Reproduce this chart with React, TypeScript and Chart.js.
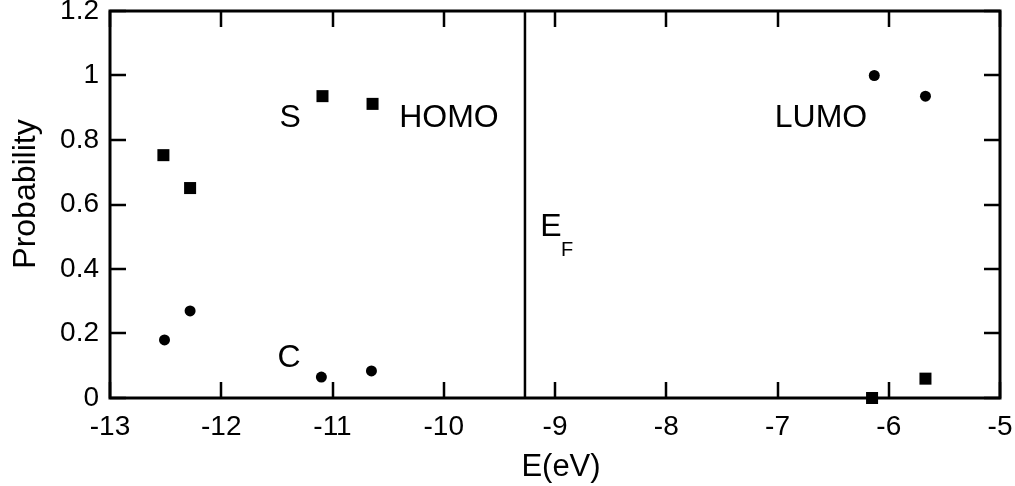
import React, { useEffect, useRef } from "react";
import { Chart, registerables } from "chart.js";

Chart.register(...registerables);

// Data (energies in eV, probabilities)
const sEnergies = [-12.52, -12.28, -11.09, -10.64, -6.15, -5.67];
const sProb = [0.753, 0.651, 0.936, 0.912, 0.0, 0.06];
const cEnergies = [-12.51, -12.28, -11.1, -10.65, -6.13, -5.67];
const cProb = [0.18, 0.27, 0.065, 0.084, 1.0, 0.936];
const fermiLevel = -9.27;

const xTicks = [-13, -12, -11, -10, -9, -8, -7, -6, -5];
const yTicks = [0, 0.2, 0.4, 0.6, 0.8, 1, 1.2];
const yTickLabels = ["0", "0.2", "0.4", "0.6", "0.8", "1", "1.2"];

const labelTexts = ["S", "C", "HOMO", "LUMO"];
const labelX = [-11.38, -11.39, -9.953, -6.609];
const labelY = [0.871, 0.127, 0.871, 0.871];

const FONT = "'Liberation Sans', Arial, Helvetica, sans-serif";

const framePlugin = {
  id: "frame",
  afterDatasetsDraw(chart: any) {
    const { ctx, chartArea, scales } = chart;
    const xs = scales.x;
    const ys = scales.y;
    const { left, right, top, bottom } = chartArea;
    ctx.save();
    ctx.strokeStyle = "#000";
    ctx.lineWidth = 3;
    ctx.lineCap = "butt";
    // frame
    ctx.strokeRect(left, top, right - left, bottom - top);
    const tl = 16;
    ctx.lineWidth = 2.5;
    ctx.beginPath();
    xTicks.forEach((v) => {
      const px = Math.round(xs.getPixelForValue(v));
      ctx.moveTo(px, bottom);
      ctx.lineTo(px, bottom - tl);
      ctx.moveTo(px, top);
      ctx.lineTo(px, top + tl);
    });
    yTicks.forEach((v) => {
      const py = Math.round(ys.getPixelForValue(v));
      ctx.moveTo(left, py);
      ctx.lineTo(left + tl, py);
      ctx.moveTo(right, py);
      ctx.lineTo(right - tl, py);
    });
    ctx.stroke();
    // Fermi level line
    const fx = xs.getPixelForValue(fermiLevel);
    ctx.lineWidth = 2.5;
    ctx.beginPath();
    ctx.moveTo(fx, top);
    ctx.lineTo(fx, bottom);
    ctx.stroke();

    // annotations
    ctx.fillStyle = "#000";
    ctx.textAlign = "center";
    ctx.textBaseline = "middle";
    ctx.font = `32px ${FONT}`;
    labelTexts.forEach((t, i) => {
      ctx.fillText(t, xs.getPixelForValue(labelX[i]), ys.getPixelForValue(labelY[i]) + 1);
    });
    // E_F
    ctx.font = `32px ${FONT}`;
    ctx.fillText("E", xs.getPixelForValue(-9.036), ys.getPixelForValue(0.533) + 1);
    ctx.font = `20px ${FONT}`;
    ctx.fillText("F", xs.getPixelForValue(-8.892), ys.getPixelForValue(0.459) + 1);

    // axis titles
    ctx.font = `31px ${FONT}`;
    ctx.fillText("E(eV)", 561, 467);
    ctx.save();
    ctx.translate(26, 194);
    ctx.rotate(-Math.PI / 2);
    ctx.font = `32px ${FONT}`;
    ctx.fillText("Probability", 0, 0);
    ctx.restore();
    ctx.restore();
  },
};

export default function App() {
  const ref = useRef<HTMLCanvasElement | null>(null);
  useEffect(() => {
    document.body.style.margin = "0";
    const canvas = ref.current;
    if (!canvas) return;
    const chart = new Chart(canvas, {
      type: "scatter",
      data: {
        datasets: [
          {
            label: "S",
            data: sEnergies.map((x, i) => ({ x, y: sProb[i] })),
            pointStyle: "rect",
            pointRadius: 8.5,
            backgroundColor: "#000",
            borderWidth: 0,
            clip: false,
          },
          {
            label: "C",
            data: cEnergies.map((x, i) => ({ x, y: cProb[i] })),
            pointStyle: "circle",
            pointRadius: 5.5,
            backgroundColor: "#000",
            borderWidth: 0,
            clip: false,
          },
        ],
      },
      options: {
        responsive: false,
        animation: false,
        layout: { padding: { top: 11, right: 15, left: 0, bottom: 0 } },
        plugins: { legend: { display: false }, tooltip: { enabled: false } },
        scales: {
          x: {
            type: "linear",
            min: -13,
            max: -5,
            grid: { display: false, drawTicks: false },
            border: { display: false },
            afterBuildTicks: (s: any) => {
              s.ticks = xTicks.map((v) => ({ value: v }));
            },
            afterFit: (s: any) => {
              s.height = 88;
              s.paddingLeft = 0;
              s.paddingRight = 0;
            },
            ticks: {
              color: "#000",
              padding: 12,
              maxRotation: 0,
              autoSkip: false,
              font: { family: FONT, size: 28 },
              callback: (v: any) => String(v),
            },
          },
          y: {
            type: "linear",
            min: 0,
            max: 1.2,
            grid: { display: false, drawTicks: false },
            border: { display: false },
            afterBuildTicks: (s: any) => {
              s.ticks = yTicks.map((v) => ({ value: v }));
            },
            afterFit: (s: any) => {
              s.width = 110;
              s.paddingTop = 0;
              s.paddingBottom = 0;
            },
            ticks: {
              color: "#000",
              padding: 11,
              autoSkip: false,
              font: { family: FONT, size: 28 },
              callback: (_v: any, i: number) => yTickLabels[i],
            },
          },
        },
      },
      plugins: [framePlugin],
    } as any);
    return () => chart.destroy();
  }, []);
  return <canvas ref={ref} width={1015} height={486} style={{ display: "block" }} />;
}
